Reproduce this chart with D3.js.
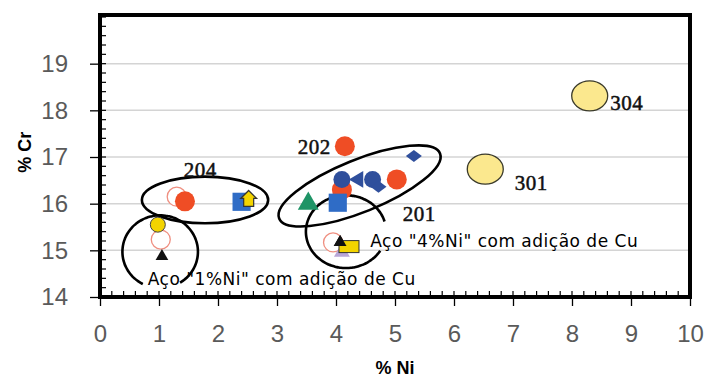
<!DOCTYPE html>
<html>
<head>
<meta charset="utf-8">
<script src="https://cdn.jsdelivr.net/npm/d3@7"></script>
<style>
  body { margin: 0; background: #fff; }
  svg { display: block; }
</style>
</head>
<body>
<div id="chart"></div>
<script>
// eixos
const xTicks = [0, 1, 2, 3, 4, 5, 6, 7, 8, 9, 10]
const yTicks = [14, 15, 16, 17, 18, 19]

// pontos (% Ni, % Cr) por tipo de marcador
const openCircles = [[1.30, 16.15], [1.03, 15.23], [3.95, 15.17]]
const redCircles = [[4.15, 17.23], [4.10, 16.30], [5.03, 16.52], [1.44, 16.05]]
const blueCircles = [[4.10, 16.52], [4.62, 16.52]]
const blueDiamonds = [[5.32, 17.02], [4.72, 16.36]]
const blueTriangles = [[4.38, 16.52]]
const blueSquares = [[4.03, 16.02], [2.40, 16.04]]
const greenTriangles = [[3.53, 16.00]]
const yellowHouses = [[2.52, 16.09]]
const yellowCircles = [[0.98, 15.55]]
const yellowRects = [[4.22, 15.08]]
const blackTriangles = [[1.05, 14.87], [4.07, 15.17]]
const lilacTriangles = [[4.10, 14.96]]
const bigCircles = [[6.53, 16.74], [8.30, 18.31]]

// rótulos dos aços
const gradeNames = ['304', '301', '202', '201', '204']
const gradeNi = [8.93, 7.31, 3.63, 5.41, 1.70]
const gradeCr = [18.00, 16.30, 17.06, 15.62, 16.58]

// agrupamentos desenhados à mão
const groupNi = [1.78, 4.40, 1.02, 4.17]
const groupCr = [16.08, 16.38, 14.97, 15.40]

const notes = ['Aço "1%Ni" com adição de Cu', 'Aço "4%Ni" com adição de Cu']
const noteNi = [0.81, 4.58]
const noteCr = [14.26, 15.08]

const width = 705
const height = 378
const margin = { top: 17, right: 15, bottom: 81, left: 100 }

const svg = d3.select('#chart')
  .append('svg')
  .attr('width', width)
  .attr('height', height)

const x = d3.scaleLinear().domain([0, 10]).range([margin.left, width - margin.right])
const y = d3.scaleLinear().domain([14, 20]).range([height - margin.bottom, margin.top])

// grade
svg.append('g')
  .selectAll('line')
  .data(yTicks.slice(1))
  .join('line')
  .attr('x1', x(0))
  .attr('x2', x(10))
  .attr('y1', d => y(d))
  .attr('y2', d => y(d))
  .attr('stroke', '#d4d4d4')
  .attr('stroke-width', 1.5)

// eixos principais
const xAxis = svg.append('g')
  .attr('transform', `translate(0,${y(14)})`)
  .call(d3.axisBottom(x).tickValues(xTicks).tickSize(9).tickPadding(19).tickFormat(d3.format('d')))
xAxis.select('.domain').remove()
xAxis.selectAll('line').attr('stroke', '#000').attr('stroke-width', 1.3)
xAxis.selectAll('text')
  .attr('font-family', 'Liberation Sans, Arial, sans-serif')
  .attr('font-size', 24)
  .attr('fill', '#5a5a5a')

const yAxis = svg.append('g')
  .attr('transform', `translate(${x(0)},0)`)
  .call(d3.axisLeft(y).tickValues(yTicks).tickSize(10).tickPadding(22).tickFormat(d3.format('d')))
yAxis.select('.domain').remove()
yAxis.selectAll('line').attr('stroke', '#000').attr('stroke-width', 1.3)
yAxis.selectAll('text')
  .attr('font-family', 'Liberation Sans, Arial, sans-serif')
  .attr('font-size', 24)
  .attr('fill', '#5a5a5a')

// marcas menores para dentro
const minorX = d3.range(0, 10.001, 0.2)
const minorY = d3.range(14, 20.001, 0.2)

svg.append('g')
  .selectAll('line')
  .data(minorX)
  .join('line')
  .attr('x1', d => x(d))
  .attr('x2', d => x(d))
  .attr('y1', y(14))
  .attr('y2', y(14) - 6)
  .attr('stroke', '#000')
  .attr('stroke-width', 1.2)

svg.append('g')
  .selectAll('line')
  .data(minorY)
  .join('line')
  .attr('x1', x(0))
  .attr('x2', x(0) + 6)
  .attr('y1', d => y(d))
  .attr('y2', d => y(d))
  .attr('stroke', '#000')
  .attr('stroke-width', 1.2)

// moldura
svg.append('rect')
  .attr('x', x(0))
  .attr('y', y(20) - 2)
  .attr('width', x(10) - x(0))
  .attr('height', y(14) - y(20) + 2)
  .attr('fill', 'none')
  .attr('stroke', '#000')
  .attr('stroke-width', 4)

// títulos dos eixos
svg.append('text')
  .attr('x', (x(0) + x(10)) / 2)
  .attr('y', height - 4)
  .attr('text-anchor', 'middle')
  .attr('font-family', 'Liberation Sans, Arial, sans-serif')
  .attr('font-weight', 'bold')
  .attr('font-size', 18)
  .text('% Ni')

svg.append('text')
  .attr('transform', `translate(31,${y(17.1)}) rotate(-90)`)
  .attr('text-anchor', 'middle')
  .attr('font-family', 'Liberation Sans, Arial, sans-serif')
  .attr('font-weight', 'bold')
  .attr('font-size', 18)
  .text('% Cr')

// agrupamentos (linhas à mão)
const ink = { fill: 'none', stroke: '#000', width: 2.6 }

svg.append('ellipse')
  .attr('cx', x(groupNi[0]))
  .attr('cy', y(groupCr[0]))
  .attr('rx', x(1.07) - x(0))
  .attr('ry', y(14) - y(14.5))
  .attr('fill', ink.fill)
  .attr('stroke', ink.stroke)
  .attr('stroke-width', ink.width)

svg.append('ellipse')
  .attr('cx', 0)
  .attr('cy', 0)
  .attr('rx', x(1.47) - x(0))
  .attr('ry', y(14) - y(14.56))
  .attr('transform', `translate(${x(groupNi[1])},${y(groupCr[1])}) rotate(-22)`)
  .attr('fill', ink.fill)
  .attr('stroke', ink.stroke)
  .attr('stroke-width', ink.width)

function openArc(cx, cy, rx, ry, a0, a1) {
  const pts = d3.range(a0, a1 + 0.001, 0.05).map(a => [cx + rx * Math.cos(a), cy + ry * Math.sin(a)])
  return d3.line().curve(d3.curveCardinal)(pts)
}

svg.append('path')
  .attr('d', openArc(x(groupNi[2]), y(groupCr[2]), x(0.64) - x(0), y(14) - y(14.78), 2.05, 2 * Math.PI + 1.05))
  .attr('fill', ink.fill)
  .attr('stroke', ink.stroke)
  .attr('stroke-width', ink.width)

svg.append('path')
  .attr('d', openArc(x(groupNi[3]), y(groupCr[3]), x(0.68) - x(0), y(14) - y(14.78), 0.55, 2 * Math.PI - 0.25))
  .attr('fill', ink.fill)
  .attr('stroke', ink.stroke)
  .attr('stroke-width', ink.width)

// marcadores
const plot = svg.append('g')

function circles(data, r, fill, stroke, sw) {
  plot.append('g')
    .selectAll('circle')
    .data(data)
    .join('circle')
    .attr('cx', d => x(d[0]))
    .attr('cy', d => y(d[1]))
    .attr('r', r)
    .attr('fill', fill)
    .attr('stroke', stroke)
    .attr('stroke-width', sw)
}

function symbols(data, type, size, fill, stroke, rot) {
  plot.append('g')
    .selectAll('path')
    .data(data)
    .join('path')
    .attr('d', d3.symbol().type(type).size(size))
    .attr('transform', d => `translate(${x(d[0])},${y(d[1])}) rotate(${rot || 0})`)
    .attr('fill', fill)
    .attr('stroke', stroke)
    .attr('stroke-width', 1)
}

circles(openCircles, 9.5, '#fff', '#ef8f80', 1.3)
circles(redCircles, 10, '#ef4d25', 'none', 0)
circles(blueCircles, 8.5, '#2f4f9c', 'none', 0)

// losango mais largo que alto
const diamond = 'M-8,0 L0,-6 L8,0 L0,6 Z'
plot.append('g')
  .selectAll('path')
  .data(blueDiamonds)
  .join('path')
  .attr('d', diamond)
  .attr('transform', d => `translate(${x(d[0])},${y(d[1])})`)
  .attr('fill', '#2f4f9c')

symbols(blueTriangles, d3.symbolTriangle, 120, '#2f4f9c', 'none', -90)
symbols(blueSquares, d3.symbolSquare, 330, '#2f6cc6', 'none', 0)
symbols(greenTriangles, d3.symbolTriangle, 190, '#1e9466', 'none', 0)
symbols(blackTriangles, d3.symbolTriangle, 70, '#111', 'none', 0)
symbols(lilacTriangles, d3.symbolTriangle, 110, '#b9a6d6', 'none', 0)

plot.append('g')
  .selectAll('rect')
  .data(yellowRects)
  .join('rect')
  .attr('x', d => x(d[0]) - 10)
  .attr('y', d => y(d[1]) - 6)
  .attr('width', 20)
  .attr('height', 12)
  .attr('fill', '#f3d400')
  .attr('stroke', '#333')
  .attr('stroke-width', 1)

// pentágono "casa"
const house = 'M0,-9 L8,-1 L5,-1 L5,7 L-5,7 L-5,-1 L-8,-1 Z'
plot.append('g')
  .selectAll('path')
  .data(yellowHouses)
  .join('path')
  .attr('d', house)
  .attr('transform', d => `translate(${x(d[0])},${y(d[1])})`)
  .attr('fill', '#f3d400')
  .attr('stroke', '#333')
  .attr('stroke-width', 1.2)

circles(yellowCircles, 7.5, '#f3d400', '#444', 1)
symbols(blackTriangles.slice(1), d3.symbolTriangle, 70, '#111', 'none', 0)

plot.append('g')
  .selectAll('ellipse')
  .data(bigCircles)
  .join('ellipse')
  .attr('cx', d => x(d[0]))
  .attr('cy', d => y(d[1]))
  .attr('rx', 18)
  .attr('ry', 15)
  .attr('fill', '#fbe88e')
  .attr('stroke', '#3a3a2a')
  .attr('stroke-width', 1.3)

// rótulos
svg.append('g')
  .selectAll('text')
  .data(gradeNames)
  .join('text')
  .attr('x', (d, i) => x(gradeNi[i]))
  .attr('y', (d, i) => y(gradeCr[i]))
  .attr('text-anchor', 'middle')
  .attr('font-family', 'Liberation Serif, Times New Roman, serif')
  .attr('font-size', 21)
  .attr('letter-spacing', 0.5)
  .attr('fill', '#111')
  .attr('stroke', '#111')
  .attr('stroke-width', 0.5)
  .text(d => d)

svg.append('g')
  .selectAll('text')
  .data(notes)
  .join('text')
  .attr('x', (d, i) => x(noteNi[i]))
  .attr('y', (d, i) => y(noteCr[i]))
  .attr('font-family', 'DejaVu Sans, Verdana, sans-serif')
  .attr('font-size', 17)
  .attr('letter-spacing', 0.5)
  .attr('fill', '#000')
  .text(d => d)
</script>
</body>
</html>
